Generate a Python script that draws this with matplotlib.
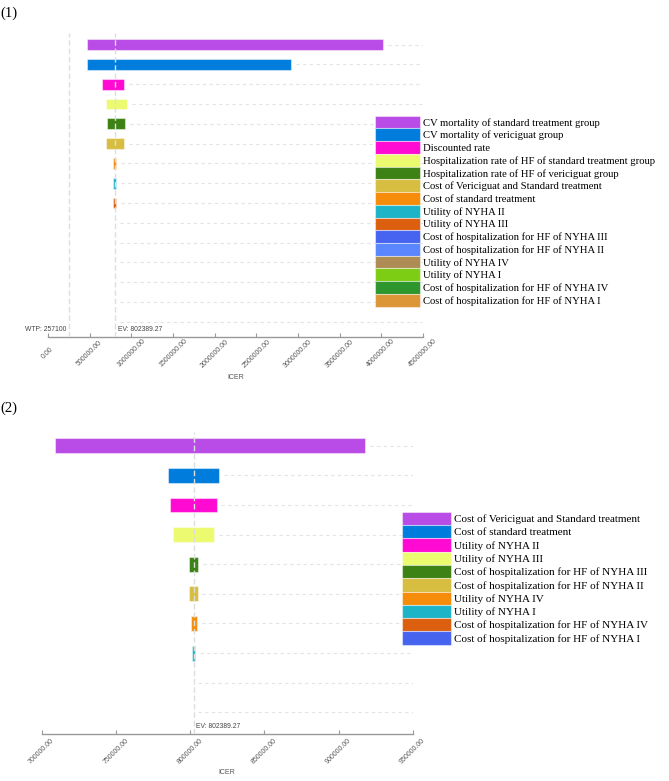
import numpy as np
import matplotlib
matplotlib.use("Agg")
import matplotlib.pyplot as plt
from matplotlib.patches import Patch

# --- palette shared by both tornado panels (by row position) ---
palette = ["#B94BE6", "#007DDC", "#FF0AD2", "#EBFA6E", "#3C8214",
           "#D7BE41", "#F58C0A", "#1EB4C8", "#DC5F0F", "#4664F0",
           "#5A87FF", "#AF8C55", "#7DCD14", "#2D962D", "#DC9637"]

EV = 802389.27
WTP = 257100

# --- panel (1) ---
labels1 = ["CV mortality of standard treatment group",
           "CV mortality of vericiguat group",
           "Discounted rate",
           "Hospitalization rate of HF of standard treatment group",
           "Hospitalization rate of HF of vericiguat group",
           "Cost of Vericiguat and Standard treatment",
           "Cost of standard treatment",
           "Utility of NYHA II",
           "Utility of NYHA III",
           "Cost of hospitalization for HF of NYHA III",
           "Cost of hospitalization for HF of NYHA II",
           "Utility of NYHA IV",
           "Utility of NYHA I",
           "Cost of hospitalization for HF of NYHA IV",
           "Cost of hospitalization for HF of NYHA I"]
low1 = [464000, 472000, 648000, 700000, 708000, 696000, 776000, 778000, 778000,
        EV, EV, EV, EV, EV, EV]
high1 = [4024000, 2916000, 908000, 944000, 928000, 912000, 818000, 812000, 814000,
         EV, EV, EV, EV, EV, EV]
ticks1 = [0, 500000, 1000000, 1500000, 2000000, 2500000, 3000000, 3500000, 4000000, 4500000]

# --- panel (2) ---
labels2 = ["Cost of Vericiguat and Standard treatment",
           "Cost of standard treatment",
           "Utility of NYHA II",
           "Utility of NYHA III",
           "Cost of hospitalization for HF of NYHA III",
           "Cost of hospitalization for HF of NYHA II",
           "Utility of NYHA IV",
           "Utility of NYHA I",
           "Cost of hospitalization for HF of NYHA IV",
           "Cost of hospitalization for HF of NYHA I"]
low2 = [709000, 785100, 786500, 788500, 799300, 799300, 800400, 801300, EV, EV]
high2 = [917900, 819300, 817900, 816100, 805300, 805100, 804700, 803300, EV, EV]
ticks2 = [700000, 750000, 800000, 850000, 900000, 950000]

W, H = 669, 781
fig = plt.figure(figsize=(W / 100, H / 100), dpi=100)


def px(x0, y_axis, x1, height):
    # pixel box (left, axis line y, right, height) -> figure fraction
    return [x0 / W, 1 - y_axis / H, (x1 - x0) / W, height / H]


def tornado(ax, low, high, ticks, pad_top, pad_bot, bar_h, wtp=None):
    n = len(low)
    xmin, xmax = ticks[0], ticks[-1]
    gap = 0.013 * (xmax - xmin)
    for i in range(n):
        if high[i] > low[i]:
            ax.barh(i, high[i] - low[i], left=low[i], height=bar_h,
                    color=palette[i], edgecolor=(1, 1, 1, 0.45), linewidth=0.8,
                    zorder=2)
        start = max(high[i], EV) + gap
        ax.hlines(i, start, xmax, colors="#e4e4e4", linestyles=(0, (3, 3)),
                  linewidth=0.8, zorder=1)
    ax.axvline(EV, color="#dedede", linestyle=(0, (4, 2)), linewidth=1, zorder=3)
    ax.annotate(f"EV: {EV:.2f}", xy=(EV, 0), xycoords=("data", "axes fraction"),
                xytext=(2, 5.5), textcoords="offset points", ha="left",
                va="center", fontsize=4.9, color="#444", family="Liberation Sans")
    if wtp is not None:
        ax.axvline(wtp, color="#dedede", linestyle=(0, (4, 2)), linewidth=1, zorder=3)
        ax.annotate(f"WTP: {wtp}", xy=(wtp, 0), xycoords=("data", "axes fraction"),
                    xytext=(-2, 5.5), textcoords="offset points", ha="right",
                    va="center", fontsize=4.9, color="#444", family="Liberation Sans")
    ax.set_xlim(xmin, xmax)
    ax.set_ylim(n - 1 + pad_bot, -pad_top)
    ax.set_xticks(ticks)
    ax.set_xticklabels([f"{t:.2f}" for t in ticks])
    ax.set_yticks([])
    for s in ["top", "right", "left"]:
        ax.spines[s].set_visible(False)
    ax.spines["bottom"].set_color("#999")
    ax.spines["bottom"].set_linewidth(1)
    ax.tick_params(axis="x", direction="in", length=3, width=0.8, color="#999",
                   pad=12, labelsize=5.0, labelcolor="#555")
    for lab in ax.get_xticklabels():
        lab.set_rotation(45)
        lab.set_rotation_mode("anchor")
        lab.set_ha("center")
        lab.set_va("center")
        lab.set_family("Liberation Sans")
    ax.set_xlabel("ICER", fontsize=5, color="#555", family="Liberation Sans")


# panel 1
ax1 = fig.add_axes(px(48, 336.7, 423, 304))
tornado(ax1, low1, high1, ticks1, 0.6, 0.75, 0.55, wtp=WTP)
ax1.xaxis.set_label_coords(0.5, -37 / 304)

# panel 2
ax2 = fig.add_axes(px(41.7, 734.3, 412.7, 302))
tornado(ax2, low2, high2, ticks2, 0.45, 0.74, 0.5)
ax2.xaxis.set_label_coords(0.5, -34.5 / 302)


# legends
def add_legend(labels, x, y, fs_pt, row_px, handle_px):
    fs_px = fs_pt * 100 / 72
    # legend patch height = fs*hh - 0.35*fs*(hh-0.7)
    hh = (row_px / fs_px - 0.245) / 0.65
    handles = [Patch(facecolor=palette[i], edgecolor=(1, 1, 1, 0.45), linewidth=0.8)
               for i in range(len(labels))]
    fig.legend(handles, labels, loc="upper left", bbox_to_anchor=(x / W, 1 - y / H),
               frameon=False, borderpad=0, borderaxespad=0, labelspacing=0,
               handlelength=handle_px / fs_px, handleheight=hh,
               handletextpad=0.3,
               prop={"family": "Liberation Serif", "size": fs_pt})


add_legend(labels1, 374.7, 115.7, 7.7, 12.73, 45.5)
add_legend(labels2, 401.7, 511.7, 8.0, 13.3, 49)

fig.text(0.0, 1 - 13 / H, "(1)", fontsize=10.5, family="Liberation Serif",
         va="center", ha="left")
fig.text(0.0, 1 - 408 / H, "(2)", fontsize=10.5, family="Liberation Serif",
         va="center", ha="left")

fig.savefig("out.png", dpi=100)
